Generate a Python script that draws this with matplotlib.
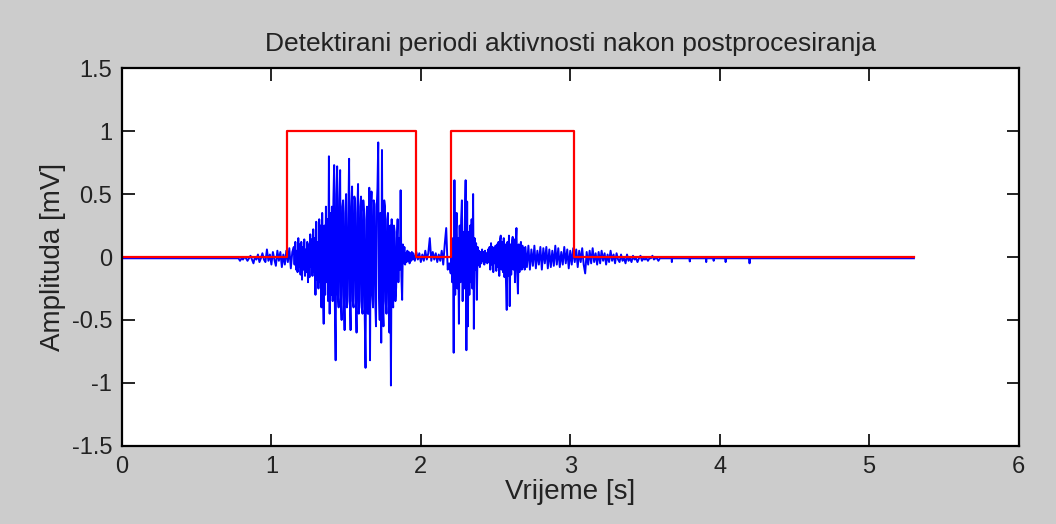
import matplotlib
matplotlib.use("Agg")
import numpy as np
import matplotlib.pyplot as plt

# activity detector output (red)
detect_t = [0.0, 1.107, 1.107, 1.966, 1.966, 2.20, 2.20, 3.027, 3.027, 5.30]
detect_v = [0.0, 0.0, 1.0, 1.0, 0.0, 0.0, 1.0, 1.0, 0.0, 0.0]

# EMG signal (blue)
# each segment: start time, sample step, amplitudes [mV]
quiet_t = [0.0, 0.77]
quiet_v = [-0.01, -0.01]

onset_start, onset_step = 0.78, 0.01
onset_v = [-0.01, -0.03, -0.01, -0.02, 0.0, -0.01, -0.03, -0.01, 0.01, -0.02,
           -0.05, 0.0, -0.02, 0.02, -0.04, -0.01, 0.03, -0.02, -0.04, 0.06,
           -0.03, 0.02, -0.06, 0.04, -0.02, -0.07, 0.05, -0.03, 0.04, -0.08,
           0.02, -0.06, 0.05, -0.04, 0.07, -0.09, 0.04]

burst1_start, burst1_step = 1.15, 0.005
burst1_v = [0.08, -0.06, 0.12, -0.10, 0.05, -0.12, 0.15, -0.08, 0.10, -0.14,
            0.12, -0.18, 0.08, -0.10, 0.14, -0.15, 0.06, -0.12, 0.12, -0.20,
            0.10, -0.16, 0.18, -0.08, 0.14, -0.15, 0.22, -0.12, 0.15, -0.30,
            0.28, -0.18, 0.12, -0.25, 0.30, -0.20, 0.25, -0.40, 0.35, -0.22,
            -0.53, 0.25, -0.30, 0.40, -0.20, 0.30, -0.35, 0.80, -0.45, 0.35,
            -0.30, 0.40, -0.35, 0.45, 0.73, -0.40, -0.82, 0.50, 0.72, -0.30,
            -0.40, 0.45, 0.69, -0.35, -0.50, 0.40, 0.45, -0.30, -0.58, 0.35,
            0.50, -0.40, -0.35, 0.30, 0.78, -0.30, -0.58, 0.40, 0.56, -0.35,
            -0.40, 0.48, 0.45, -0.30, -0.60, 0.35, 0.58, -0.45, -0.35, 0.40,
            0.48, -0.40, -0.45, 0.45, 0.35, -0.50, -0.88, 0.30, 0.40, -0.45,
            -0.45, 0.55, -0.82, 0.35, 0.52, -0.30, -0.40, 0.45, 0.42, -0.35,
            -0.55, 0.40, 0.55, 0.91, -0.30, -0.50, 0.35, -0.68, 0.85, -0.40,
            -0.55, 0.45, 0.40, -0.35, -0.45, 0.30, 0.35, -0.40, -0.60, 0.25,
            -1.02, 0.30, -0.30, -0.40, 0.25, 0.20, -0.35, -0.24, 0.15, 0.30,
            -0.20, 0.15, -0.10, 0.53, -0.15, -0.34, 0.10, -0.05, 0.08, -0.06,
            0.03, -0.04, 0.05, -0.03, 0.04, -0.05, 0.03, -0.03, 0.04, -0.02,
            0.03]

gap_start, gap_step = 1.96, 0.01
gap_v = [-0.03, 0.04, -0.02, 0.03, -0.04, 0.02, -0.03, 0.05, -0.02, 0.03,
         0.15, -0.03, 0.04, -0.02, 0.03, -0.04, 0.02, -0.03, 0.05, -0.06,
         0.10, 0.23, -0.10, -0.05]

burst2_start, burst2_step = 2.20, 0.005
burst2_v = [-0.13, 0.10, -0.20, 0.15, -0.76, 0.61, -0.30, 0.20, 0.35, -0.25,
            0.15, -0.53, 0.25, -0.20, 0.30, 0.45, -0.35, 0.20, -0.25, 0.30,
            0.61, -0.74, 0.44, -0.55, 0.20, -0.30, 0.25, -0.20, 0.30, -0.25,
            0.50, -0.57, 0.15, -0.10, 0.11, -0.34, 0.08, -0.06, 0.05, -0.08,
            0.04, -0.05, 0.06, -0.03, 0.04, -0.06, 0.05, -0.04, 0.03, -0.05,
            0.06, -0.04, 0.08, -0.10, 0.11, -0.06, 0.08, -0.12, 0.07, -0.05,
            0.09, -0.11, 0.10, -0.08, 0.12, -0.15, 0.14, 0.17, -0.10, 0.12,
            -0.12, 0.15, -0.16, 0.10, -0.20, -0.42, 0.12, -0.15, 0.17, -0.39,
            0.10, -0.14, 0.12, 0.16, -0.10, 0.14, -0.20, 0.10, 0.23, -0.12,
            -0.29, 0.10, -0.12, 0.08, 0.12, -0.10, 0.09, -0.08, 0.07, -0.10,
            0.08]

decay_start, decay_step = 2.71, 0.01
decay_v = [-0.08, 0.09, -0.10, 0.06, -0.07, 0.09, -0.09, 0.05, -0.06, 0.08,
           -0.10, 0.07, -0.05, 0.08, -0.09, 0.06, -0.08, 0.05, -0.07, 0.09,
           -0.06, 0.07, -0.08, 0.04, -0.06, 0.08, -0.05, 0.06, -0.09, 0.05,
           -0.06, 0.07, -0.04, 0.06, -0.08, 0.05, -0.04, 0.07, -0.06, -0.13,
           0.04, -0.06, 0.05, -0.05, 0.07, -0.04, 0.03, -0.06, 0.04, -0.05,
           0.05, -0.03, 0.03, -0.06, 0.02, -0.04, 0.05, -0.03, 0.02, -0.05,
           0.03, -0.02, -0.04, 0.02, -0.03, -0.01, -0.05, 0.02, -0.03, -0.01,
           -0.04, 0.01, -0.02, -0.01, -0.04, -0.01, 0.01, -0.03, -0.01, -0.02,
           -0.01, -0.03, -0.01, -0.01, 0.01, -0.02, -0.01, -0.01, -0.03, -0.01]

tail_t = [3.679, 3.68, 3.681, 3.799, 3.80, 3.801, 3.909, 3.91, 3.911,
          3.959, 3.96, 3.961, 4.039, 4.04, 4.041, 4.199, 4.20, 4.201, 5.30]
tail_v = [-0.01, -0.04, -0.01, -0.01, -0.035, -0.01, -0.01, -0.04, -0.01,
          -0.01, -0.03, -0.01, -0.01, -0.04, -0.01, -0.01, -0.05, -0.01, -0.01]

x_ticks = [0, 1, 2, 3, 4, 5, 6]
y_ticks = [-1.5, -1, -0.5, 0, 0.5, 1, 1.5]
y_labels = ["-1.5", "-1", "-0.5", "0", "0.5", "1", "1.5"]


def sampled(start, step, vals):
    return start + step * np.arange(len(vals)), np.asarray(vals)


parts = [(np.asarray(quiet_t), np.asarray(quiet_v)),
         sampled(onset_start, onset_step, onset_v),
         sampled(burst1_start, burst1_step, burst1_v),
         sampled(gap_start, gap_step, gap_v),
         sampled(burst2_start, burst2_step, burst2_v),
         sampled(decay_start, decay_step, decay_v),
         (np.asarray(tail_t), np.asarray(tail_v))]
sig_t = np.concatenate([p[0] for p in parts])
sig_v = np.concatenate([p[1] for p in parts])

plt.rcParams['font.family'] = ['Liberation Sans', 'DejaVu Sans']
text_col = '#222222'

fig = plt.figure(figsize=(10.56, 5.24), dpi=100, facecolor='#cccccc')
ax = fig.add_axes([0.1155, 0.149, 0.849, 0.721])
ax.set_facecolor('white')

ax.plot(sig_t, sig_v, color='#0000ff', linewidth=1.4)
ax.plot(detect_t, detect_v, color='#ff0000', linewidth=1.6)

ax.set_xlim(0, 6)
ax.set_ylim(-1.5, 1.5)
ax.set_xticks(x_ticks)
ax.set_xticklabels([str(t) for t in x_ticks])
ax.set_yticks(y_ticks)
ax.set_yticklabels(y_labels)
ax.tick_params(direction='in', top=True, right=True, length=9, width=1.2,
               labelsize=17, pad=7, labelcolor=text_col)
for s in ax.spines.values():
    s.set_linewidth(1.6)

ax.set_title('Detektirani periodi aktivnosti nakon postprocesiranja',
             fontsize=19, pad=12, color=text_col)
ax.set_xlabel('Vrijeme [s]', fontsize=20, labelpad=1, color=text_col)
ax.set_ylabel('Amplituda [mV]', fontsize=20, labelpad=4, color=text_col)

fig.savefig('out.png', dpi=100, facecolor=fig.get_facecolor())
